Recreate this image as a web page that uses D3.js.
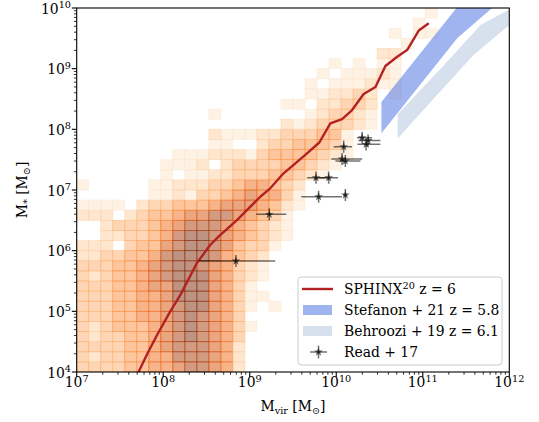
<!DOCTYPE html>
<html><head><meta charset="utf-8">
<script src="https://cdn.jsdelivr.net/npm/d3@7"></script>
<style>
body{margin:0;background:#fff}
text{font-family:"DejaVu Serif",serif;fill:#000}
</style>
</head><body>
<svg id="c" width="539" height="422"></svg>
<script>
// ---------- data ----------
const xTickExps = [7, 8, 9, 10, 11, 12];
const yTickExps = [4, 5, 6, 7, 8, 9, 10];
const histXRange = [7, 12];
const histYRange = [4, 10];
const histBins = 36;
// 2D histogram (SPHINX haloes): each row = [first column, colour level digits 0-8]
const histRows = [
  [0, "33334455677652"],
  [0, "32334455777652"],
  [0, "33334456777652"],
  [0, "32334456787653"],
  [0, "323444567876531"],
  [0, "333445567876530"],
  [0, "33344556788653101"],
  [0, "3334455688865311"],
  [0, "3334456688865310"],
  [0, "3234456788865321"],
  [0, "3334456788765321"],
  [0, "2233445788875432"],
  [0, "22203446788764331"],
  [0, "002233457887654321"],
  [0, "002333456777654321"],
  [0, "222023445667765431"],
  [0, "1111023344456665421"],
  [0, "0000001121334565531"],
  [0, "1000001122233455432"],
  [0, "000000010112233344321"],
  [0, "0000000111202333344321"],
  [0, "00000000111222134444321"],
  [0, "00000000000110023344431"],
  [0, "00000000000211122333441"],
  [17, "21233321"],
  [11, "10000000123321"],
  [17, "11022332"],
  [19, "11223201"],
  [19, "10111211"],
  [20, "1011121"],
  [21, "101011"],
  [25, "22"],
  [27, "1"],
  [26, "1011"],
  [28, "1"],
  [29, "1"]
];
const histMaxLevel = 8;

// SPHINX median relation (log10 Mvir, log10 M*)
const sphinxLogMvir = [7.708, 7.819, 7.929, 8.080, 8.202, 8.389, 8.543, 8.639, 8.852, 9.122, 9.237, 9.391, 9.527, 9.662, 9.804, 9.932, 10.067, 10.183, 10.317, 10.453, 10.568, 10.704, 10.819, 10.954, 11.069];
const sphinxLogMstar = [3.98, 4.308, 4.610, 4.994, 5.28, 5.797, 6.093, 6.230, 6.505, 6.889, 7.028, 7.275, 7.440, 7.605, 7.783, 8.099, 8.170, 8.318, 8.582, 8.697, 9.044, 9.197, 9.307, 9.629, 9.747];

// Stefanon+21 band
const stefUpperLogMvir = [10.522, 11.398, 11.8];
const stefUpperLogMstar = [8.451, 10.015, 10.73];
const stefLowerLogMvir = [10.522, 11.398, 11.8];
const stefLowerLogMstar = [7.934, 9.50, 10.0];

// Behroozi+19 band
const behUpperLogMvir = [10.71, 11.243, 11.668, 12.0];
const behUpperLogMstar = [8.25, 9.058, 9.720, 9.975];
const behLowerLogMvir = [10.71, 11.167, 11.590, 12.0];
const behLowerLogMstar = [7.85, 8.571, 9.230, 9.720];

// Read+17 dwarfs
const readLogMvir   = [10.299, 10.368, 10.345, 10.086, 10.067, 10.105, 9.766, 9.912, 9.796, 10.105, 9.226, 8.840];
const readLogMstar  = [7.862, 7.816, 7.753, 7.714, 7.511, 7.478, 7.203, 7.203, 6.889, 6.917, 6.599, 5.830];
const readLogMvirLo = [10.241, 10.256, 10.244, 9.970, 9.943, 9.990, 9.662, 9.793, 9.596, 10.082, 9.075, 8.415];
const readLogMvirHi = [10.414, 10.510, 10.510, 10.183, 10.299, 10.280, 9.885, 10.021, 10.067, 10.128, 9.422, 9.295];
const readLogMstarErr = [0.1, 0.1, 0.1, 0.1, 0.1, 0.1, 0.1, 0.1, 0.1, 0.1, 0.1, 0.1];

const legendLabels = [
  ["SPHINX", "20", " z = 6"],
  ["Stefanon + 21 z = 5.8"],
  ["Behroozi + 19 z = 6.1"],
  ["Read + 17"]
];

// ---------- drawing ----------
const svg = d3.select("#c");
const L = 76.7, R = 509.3, T = 8, B = 372;
const x = d3.scaleLog().domain([1e7, 1e12]).range([L, R]);
const y = d3.scaleLog().domain([1e4, 1e10]).range([B, T]);
const X = v => x(Math.pow(10, v));
const Y = v => y(Math.pow(10, v));

svg.append("defs").append("clipPath").attr("id", "clip")
  .append("rect").attr("x", L).attr("y", T).attr("width", R - L).attr("height", B - T);
const plot = svg.append("g").attr("clip-path", "url(#clip)");

// histogram
const bx = (histXRange[1] - histXRange[0]) / histBins;
const by = (histYRange[1] - histYRange[0]) / histBins;
const cells = [];
histRows.forEach(([start, s], r) => {
  for (let i = 0; i < s.length; i++) {
    const v = +s[i];
    if (v > 0) cells.push({c: start + i, r, v});
  }
});
const col = d => d3.interpolateOranges(d.v / histMaxLevel);
plot.append("g").selectAll("rect").data(cells).join("rect")
  .attr("x", d => X(histXRange[0] + d.c * bx))
  .attr("width", d => X(histXRange[0] + (d.c + 1) * bx) - X(histXRange[0] + d.c * bx))
  .attr("y", d => Y(histYRange[0] + (d.r + 1) * by))
  .attr("height", d => Y(histYRange[0] + d.r * by) - Y(histYRange[0] + (d.r + 1) * by))
  .attr("fill", col).attr("fill-opacity", 0.5)
  .attr("stroke", col).attr("stroke-opacity", 0.55).attr("stroke-width", 0.8);

// bands
function band(ux, uy, lx, ly) {
  const pts = ux.map((v, i) => [X(v), Y(uy[i])]);
  for (let i = lx.length - 1; i >= 0; i--) pts.push([X(lx[i]), Y(ly[i])]);
  return pts;
}
const line = d3.line();
plot.append("path")
  .attr("d", line(band(stefUpperLogMvir, stefUpperLogMstar, stefLowerLogMvir, stefLowerLogMstar)) + "Z")
  .attr("fill", "#4169e1").attr("fill-opacity", 0.5);
plot.append("path")
  .attr("d", line(band(behUpperLogMvir, behUpperLogMstar, behLowerLogMvir, behLowerLogMstar)) + "Z")
  .attr("fill", "#b0c4de").attr("fill-opacity", 0.5);

// SPHINX line
plot.append("path")
  .attr("d", line(sphinxLogMvir.map((v, i) => [X(v), Y(sphinxLogMstar[i])])))
  .attr("fill", "none").attr("stroke", "#b22222").attr("stroke-width", 2.4)
  .attr("stroke-linejoin", "round");

// Read+17 points
const star = d3.symbol().type(d3.symbolStar).size(24);
const pts = plot.append("g");
readLogMvir.forEach((v, i) => {
  const g = pts.append("g");
  g.append("line").attr("x1", X(readLogMvirLo[i])).attr("x2", X(readLogMvirHi[i]))
    .attr("y1", Y(readLogMstar[i])).attr("y2", Y(readLogMstar[i]))
    .attr("stroke", "#000").attr("stroke-opacity", 0.55).attr("stroke-width", 1.5);
  g.append("line").attr("x1", X(v)).attr("x2", X(v))
    .attr("y1", Y(readLogMstar[i] - readLogMstarErr[i])).attr("y2", Y(readLogMstar[i] + readLogMstarErr[i]))
    .attr("stroke", "#000").attr("stroke-opacity", 0.55).attr("stroke-width", 1.5);
  g.append("path").attr("d", star).attr("transform", `translate(${X(v)},${Y(readLogMstar[i])})`)
    .attr("fill", "#000").attr("fill-opacity", 0.6);
});

// axes frame
const ax = svg.append("g");
function minorList(lo, hi) {
  const out = [];
  for (let e = lo; e < hi; e++) for (let k = 2; k <= 9; k++) out.push(k * Math.pow(10, e));
  return out;
}
xTickExps.forEach(e => ax.append("line").attr("x1", X(e)).attr("x2", X(e)).attr("y1", B).attr("y2", B + 4.9)
  .attr("stroke", "#000").attr("stroke-width", 1.1));
minorList(7, 12).forEach(v => ax.append("line").attr("x1", x(v)).attr("x2", x(v)).attr("y1", B).attr("y2", B + 2.8)
  .attr("stroke", "#000").attr("stroke-width", 0.8));
yTickExps.forEach(e => ax.append("line").attr("y1", Y(e)).attr("y2", Y(e)).attr("x1", L).attr("x2", L - 4.9)
  .attr("stroke", "#000").attr("stroke-width", 1.1));
minorList(4, 10).forEach(v => ax.append("line").attr("y1", y(v)).attr("y2", y(v)).attr("x1", L).attr("x2", L - 2.8)
  .attr("stroke", "#000").attr("stroke-width", 0.8));

function powLabel(g, px, py, e, anchor) {
  const t = g.append("text").attr("x", px).attr("y", py).attr("text-anchor", anchor).attr("font-size", 13.9);
  t.append("tspan").text("10");
  t.append("tspan").attr("dy", -5.5).attr("font-size", 9.7).text(e);
  return t;
}
xTickExps.forEach(e => powLabel(ax, X(e), 387, e, "middle"));
yTickExps.forEach(e => powLabel(ax, 71, Y(e) + 5.5, e, "end"));

ax.append("rect").attr("x", L).attr("y", T).attr("width", R - L).attr("height", B - T)
  .attr("fill", "none").attr("stroke", "#000").attr("stroke-width", 1.1);

// axis labels
const xl = ax.append("text").attr("x", (L + R) / 2).attr("y", 411).attr("text-anchor", "middle").attr("font-size", 13.9);
xl.append("tspan").text("M");
xl.append("tspan").attr("dy", 3).attr("font-size", 9.7).text("vir");
xl.append("tspan").attr("dy", -3).text(" [M");
xl.append("tspan").attr("dy", 3).attr("font-size", 9.7).text("\u2299");
xl.append("tspan").attr("dy", -3).text("]");

const yl = ax.append("text").attr("transform", `translate(27,${(T + B) / 2}) rotate(-90)`)
  .attr("text-anchor", "middle").attr("font-size", 13.9);
yl.append("tspan").text("M");
yl.append("tspan").attr("dy", 3).attr("font-size", 9.7).text("*");
yl.append("tspan").attr("dy", -3).text(" [M");
yl.append("tspan").attr("dy", 3).attr("font-size", 9.7).text("\u2299");
yl.append("tspan").attr("dy", -3).text("]");

// legend
const lg = svg.append("g");
lg.append("rect").attr("x", 298).attr("y", 277).attr("width", 204).attr("height", 88).attr("rx", 3)
  .attr("fill", "#fff").attr("fill-opacity", 0.8).attr("stroke", "#cccccc").attr("stroke-width", 1);
const rowY = [289, 310, 331, 352];
lg.append("line").attr("x1", 302).attr("x2", 333).attr("y1", rowY[0]).attr("y2", rowY[0])
  .attr("stroke", "#b22222").attr("stroke-width", 2.4);
lg.append("rect").attr("x", 303).attr("y", rowY[1] - 5).attr("width", 29).attr("height", 10)
  .attr("fill", "#4169e1").attr("fill-opacity", 0.5);
lg.append("rect").attr("x", 303).attr("y", rowY[2] - 5).attr("width", 29).attr("height", 10)
  .attr("fill", "#b0c4de").attr("fill-opacity", 0.5);
lg.append("line").attr("x1", 310).attr("x2", 327).attr("y1", rowY[3]).attr("y2", rowY[3])
  .attr("stroke", "#000").attr("stroke-opacity", 0.55).attr("stroke-width", 1.5);
lg.append("line").attr("x1", 318.5).attr("x2", 318.5).attr("y1", rowY[3] - 6.5).attr("y2", rowY[3] + 6.5)
  .attr("stroke", "#000").attr("stroke-opacity", 0.55).attr("stroke-width", 1.5);
lg.append("path").attr("d", star).attr("transform", `translate(318.5,${rowY[3]})`)
  .attr("fill", "#000").attr("fill-opacity", 0.6);
legendLabels.forEach((parts, i) => {
  const t = lg.append("text").attr("x", 344).attr("y", rowY[i] + 5).attr("font-size", 13.9);
  if (parts.length === 3) {
    t.append("tspan").text(parts[0]);
    t.append("tspan").attr("dy", -5.5).attr("font-size", 9.7).text(parts[1]);
    t.append("tspan").attr("dy", 5.5).text(parts[2]);
  } else {
    t.text(parts[0]);
  }
});
</script>
</body></html>
